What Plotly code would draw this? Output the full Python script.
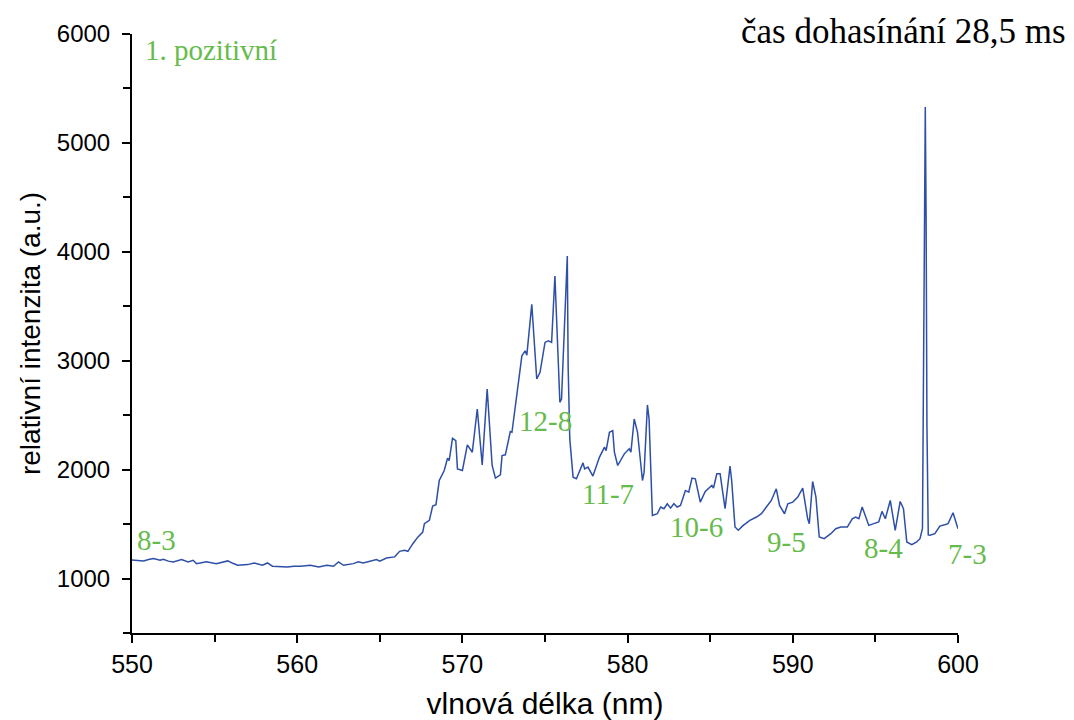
import plotly.graph_objects as go

wavelength = [
    550.0, 550.3, 550.7, 551.0, 551.3, 551.7, 551.9, 552.2, 552.5, 553.0,
    553.4, 553.7, 553.9, 554.2, 554.5, 555.1, 555.5, 555.8, 556.1, 556.4,
    557.0, 557.4, 557.9, 558.2, 558.5, 559.0, 559.4, 559.8, 560.2, 560.8,
    561.3, 561.8, 562.2, 562.5, 562.8, 563.4, 563.7, 564.0, 564.4, 564.8,
    565.0, 565.4, 565.9, 566.2, 566.5, 566.7, 567.0, 567.3, 567.6, 567.7,
    568.0, 568.2, 568.4, 568.6, 568.9, 569.1, 569.2, 569.4, 569.6, 569.7,
    570.0, 570.3, 570.6, 570.9, 571.2, 571.5, 571.8, 572.0, 572.3, 572.4,
    572.6, 572.9, 573.0, 573.3, 573.6, 573.8, 573.9, 574.2, 574.5, 574.7,
    575.0, 575.2, 575.4, 575.6, 575.9, 576.0, 576.2, 576.35, 576.4, 576.5,
    576.7, 576.9, 577.3, 577.4, 577.6, 577.9, 578.3, 578.6, 578.7, 578.9,
    579.1, 579.2, 579.4, 579.8, 580.1, 580.2, 580.4, 580.6, 580.9, 581.0,
    581.2, 581.3, 581.5, 581.8, 582.0, 582.2, 582.4, 582.6, 582.8, 583.0,
    583.2, 583.5, 583.7, 583.9, 584.1, 584.4, 584.7, 585.1, 585.2, 585.4,
    585.6, 585.9, 586.2, 586.3, 586.5, 586.7, 587.0, 587.4, 587.8, 588.1,
    588.4, 588.7, 589.0, 589.2, 589.5, 589.7, 590.0, 590.3, 590.6, 590.9,
    591.0, 591.2, 591.4, 591.6, 591.9, 592.3, 592.6, 592.9, 593.3, 593.6,
    593.8, 594.0, 594.2, 594.6, 594.9, 595.2, 595.4, 595.6, 595.9, 596.2,
    596.5, 596.7, 596.9, 597.2, 597.5, 597.7, 597.85, 597.92, 597.97, 598.02,
    598.07, 598.12, 598.2, 598.3, 598.6, 598.9, 599.2, 599.4, 599.7, 600.0,
]
intensity = [
    1170, 1165, 1162, 1175, 1183, 1168, 1177, 1160, 1153, 1174,
    1153, 1168, 1137, 1145, 1153, 1137, 1150, 1162, 1140, 1122,
    1128, 1143, 1122, 1143, 1113, 1110, 1107, 1112, 1113, 1122,
    1107, 1122, 1113, 1153, 1122, 1137, 1153, 1143, 1160, 1174,
    1160, 1189, 1199, 1250, 1259, 1250, 1320, 1380, 1427, 1504,
    1534, 1666, 1678, 1900, 1992, 2105, 2083, 2288, 2267, 2007,
    1992, 2227, 2160, 2557, 2044, 2740, 2038, 1922, 1952, 2129,
    2136, 2349, 2343, 2679, 3045, 3091, 3051, 3518, 2832, 2893,
    3168, 3182, 3168, 3778, 2618, 2648, 3503, 3961, 2954, 2282,
    1931, 1916, 2062, 2007, 2023, 1941, 2115, 2206, 2175, 2343,
    2358, 2160, 2038, 2145, 2191, 2160, 2465, 2343, 1900, 1977,
    2594, 2465, 1580, 1595, 1657, 1641, 1687, 1647, 1687, 1657,
    1671, 1809, 1794, 1922, 1916, 1702, 1800, 1855, 1831, 1962,
    1962, 1641, 2032, 1900, 1473, 1443, 1488, 1534, 1565, 1595,
    1657, 1717, 1824, 1671, 1595, 1687, 1702, 1748, 1831, 1549,
    1504, 1891, 1748, 1382, 1366, 1412, 1458, 1473, 1473, 1549,
    1565, 1549, 1657, 1488, 1504, 1519, 1617, 1549, 1717, 1443,
    1708, 1641, 1336, 1311, 1336, 1366, 1460, 3400, 4350, 5330,
    4300, 2400, 1400, 1397, 1412, 1482, 1494, 1504, 1604, 1458,
]

band_labels = ["8-3", "12-8", "11-7", "10-6", "9-5", "8-4", "7-3", "1. pozitivní"]
band_x = [550.2, 573.3, 577.1, 582.45, 588.3, 594.2, 599.3, 550.67]
band_y = [1357, 2447, 1778, 1476, 1339, 1284, 1229, 5854]

title_text = "čas dohasínání 28,5 ms"

GREEN = "#66bb4c"
BLUE = "#2d4fa8"
SANS = "Liberation Sans, Arial, sans-serif"
SERIF = "Liberation Serif, Times New Roman, serif"

fig = go.Figure()
fig.add_trace(go.Scatter(
    x=wavelength, y=intensity, mode="lines",
    line=dict(color=BLUE, width=1.5), showlegend=False,
))

for lab, bx, by in zip(band_labels, band_x, band_y):
    fig.add_annotation(
        x=bx, y=by, text=lab, showarrow=False, xanchor="left", yanchor="middle",
        font=dict(family=SERIF, size=29, color=GREEN),
    )

fig.add_annotation(
    x=1.133, y=1.004, xref="paper", yref="paper", text=title_text, showarrow=False,
    xanchor="right", yanchor="middle",
    font=dict(family=SERIF, size=35, color="black"),
)

fig.update_layout(
    width=1066, height=712,
    margin=dict(l=124, r=116, t=26, b=87, autoexpand=False),
    paper_bgcolor="white", plot_bgcolor="white",
    xaxis=dict(
        range=[550, 600], dtick=10, tick0=550, automargin=False,
        showline=True, linecolor="black", linewidth=2,
        ticks="outside", ticklen=8, tickwidth=2, tickcolor="black",
        showgrid=False, zeroline=False,
        tickfont=dict(family=SANS, size=25, color="black"),
        minor=dict(ticks="outside", dtick=5, ticklen=7, tickwidth=2, tickcolor="black", showgrid=False),
        title=dict(text="vlnová délka (nm)", font=dict(family=SANS, size=30, color="black"), standoff=18),
    ),
    yaxis=dict(
        range=[500, 6000], dtick=1000, tick0=0, automargin=False,
        showline=True, linecolor="black", linewidth=2,
        ticks="outside", ticklen=8, tickwidth=2, tickcolor="black",
        ticklabelstandoff=7,
        showgrid=False, zeroline=False,
        tickfont=dict(family=SANS, size=24, color="black"),
        minor=dict(ticks="outside", dtick=500, ticklen=7, tickwidth=2, tickcolor="black", showgrid=False),
        title=dict(text="relativní intenzita (a.u.)", font=dict(family=SANS, size=28, color="black"), standoff=8),
    ),
)

fig.write_html("out.html")
